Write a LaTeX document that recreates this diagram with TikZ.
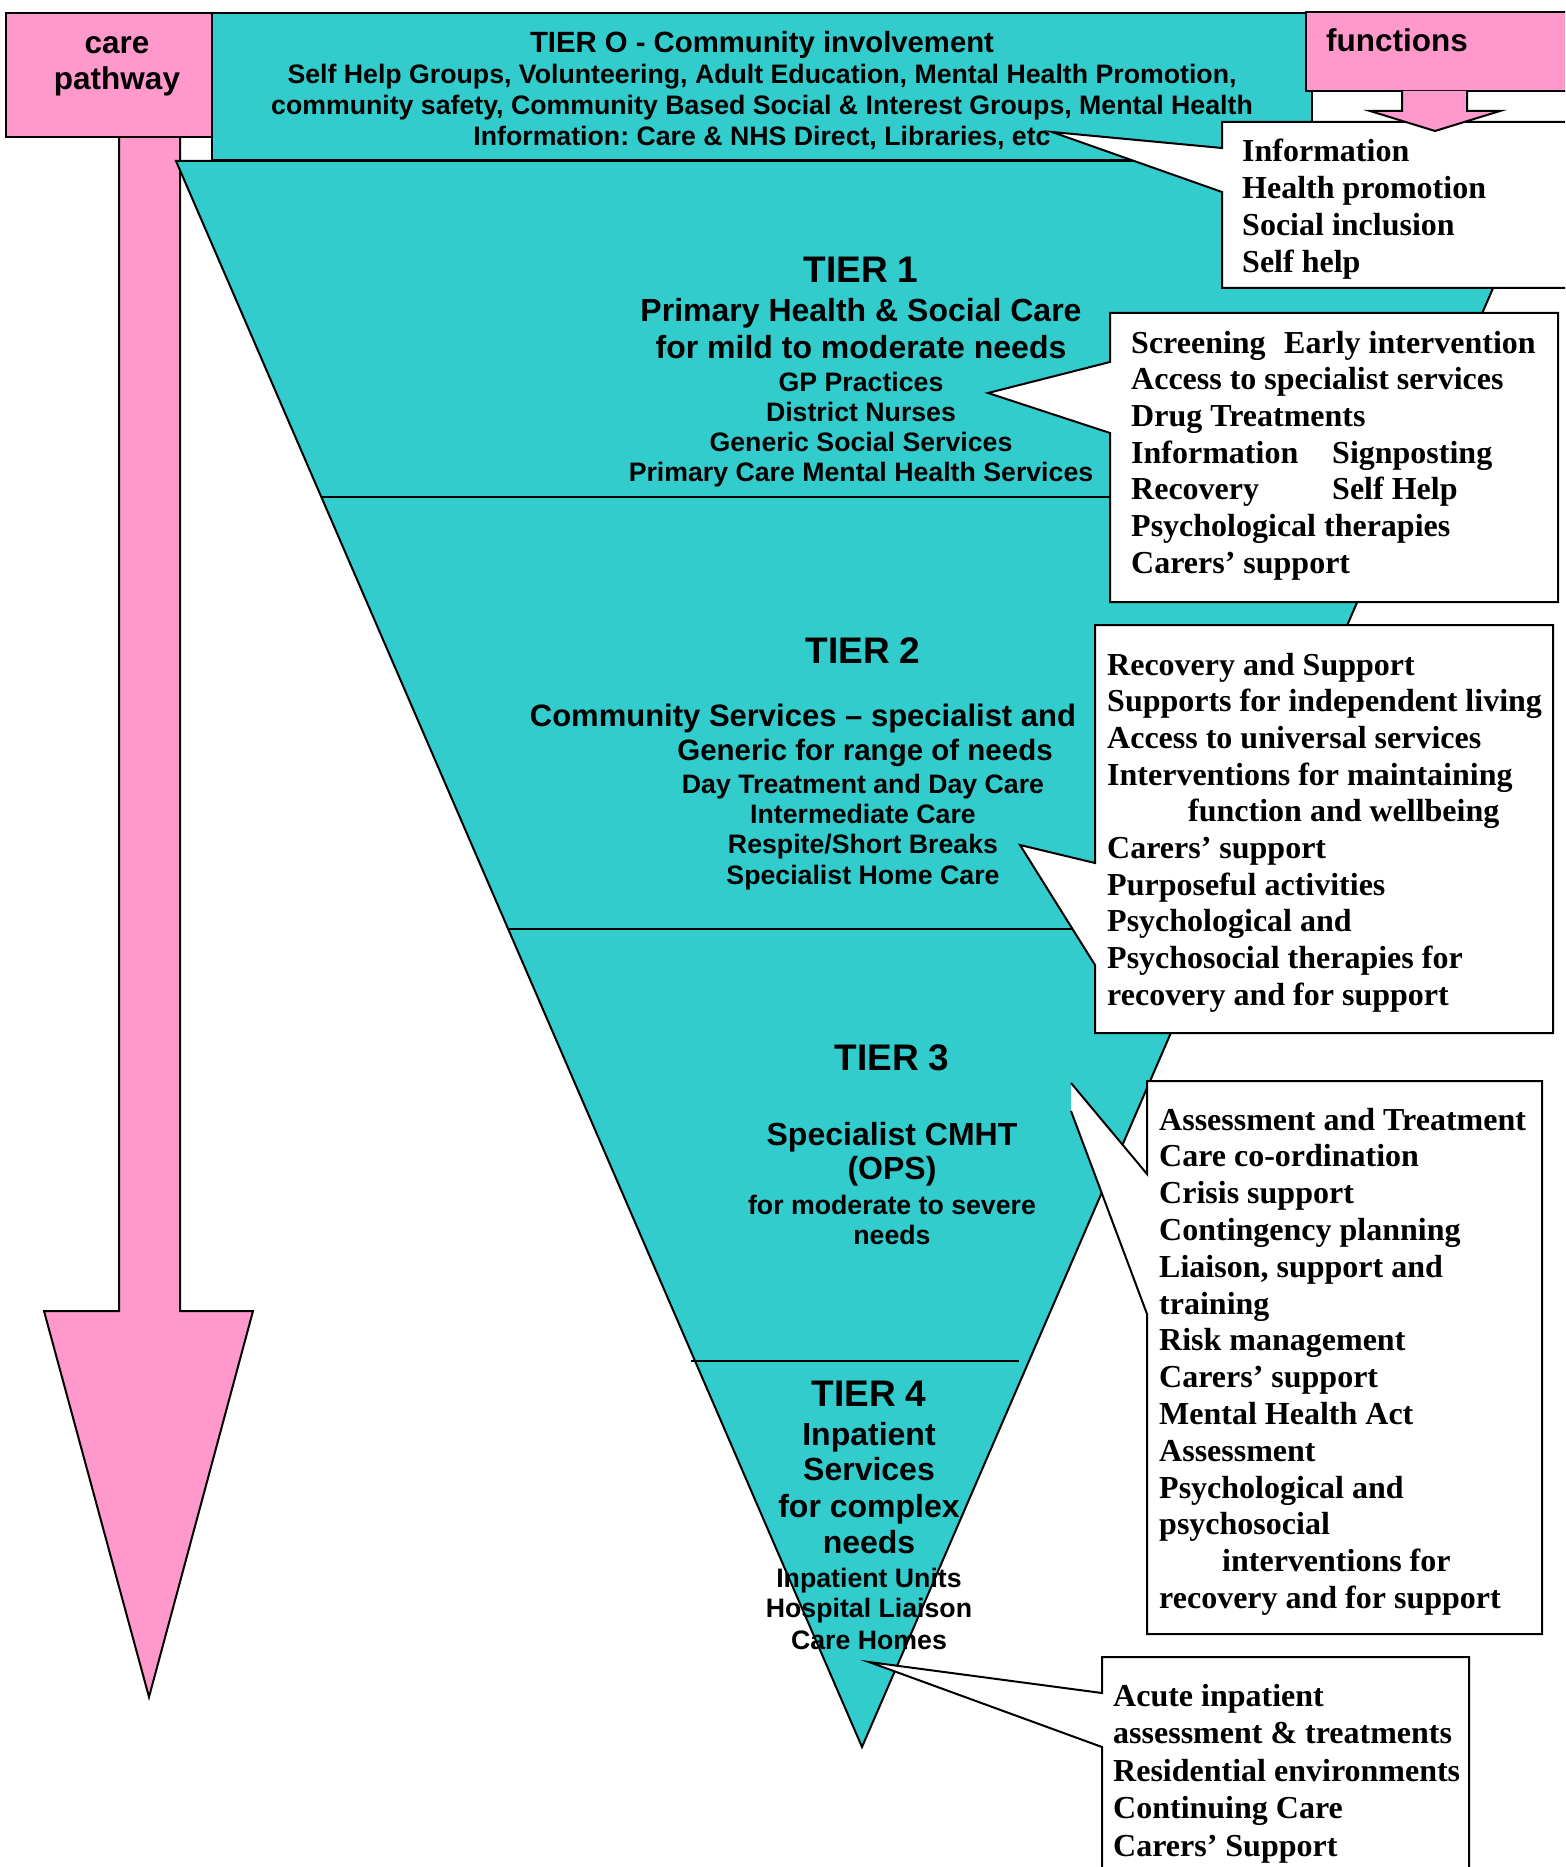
\documentclass[tikz,border=0pt]{standalone}
\usepackage{fontspec}
\setmainfont{Liberation Serif}
\newfontfamily\arialfont{Liberation Sans}
\definecolor{tealfill}{HTML}{33CCCC}
\definecolor{pinkfill}{HTML}{FF99CC}
\frenchspacing
\begin{document}
\begin{tikzpicture}[x=1pt,y=-1pt,
  outline/.style={draw=black,line width=2pt,line join=miter},
  tierhead/.style={font=\arialfont\bfseries\fontsize{37}{42}\selectfont,anchor=base,inner sep=0pt},
  tiermain/.style={font=\arialfont\bfseries\fontsize{32}{36}\selectfont,anchor=base,inner sep=0pt},
  tiersub/.style={font=\arialfont\bfseries\fontsize{26.7}{30}\selectfont,anchor=base,inner sep=0pt},
  toptitle/.style={font=\arialfont\bfseries\fontsize{29.3}{33}\selectfont,anchor=base,inner sep=0pt},
  labelbig/.style={font=\arialfont\bfseries\fontsize{31.5}{35}\selectfont,anchor=base,inner sep=0pt},
  serifline/.style={font=\bfseries\fontsize{32}{37}\selectfont,anchor=base west,inner sep=0pt},
]
\useasboundingbox (0,0) rectangle (1565,1867);
\clip (0,0) rectangle (1565,1867);

% care pathway arrow
\draw[outline,fill=pinkfill] (119,130) -- (119,1311) -- (44,1311) -- (149,1697)
  -- (253,1311) -- (180,1311) -- (180,130);
\draw[outline,fill=pinkfill] (6,13) rectangle (212,137);
\node[labelbig] (cp1) at (117,54) {care};
\node[labelbig] (cp2) at (117,90) {pathway};

% tier 0 band
\draw[outline,fill=tealfill] (212,13) rectangle (1312,160);
\node[toptitle] (t0a) at (762,53) {TIER O - Community involvement};
\node[tiersub] (t0b) at (762,84) {Self Help Groups, Volunteering, Adult Education, Mental Health Promotion,};
\node[tiersub] (t0c) at (762,115) {community safety, Community Based Social \& Interest Groups, Mental Health};
\node[tiersub] (t0d) at (762,146) {Information: Care \& NHS Direct, Libraries, etc};

% inverted triangle with tiers
\fill[tealfill] (176,161) -- (1548,161) -- (862,1747) -- cycle;
\draw[outline] (321,497) -- (1408,497);
\draw[outline] (508,929) -- (1219,929);
\draw[outline] (691,1361) -- (1019,1361);

% tier 1
\node[tierhead] (t1a) at (861,283) {TIER 1};
\node[tiermain] (t1b) at (861,321) {Primary Health \& Social Care};
\node[tiermain] (t1c) at (861,358) {for mild to moderate needs};
\node[tiersub] (t1d) at (861,391) {GP Practices};
\node[tiersub] (t1e) at (861,421) {District Nurses};
\node[tiersub] (t1f) at (861,451) {Generic Social Services};
\node[tiersub] (t1g) at (861,481) {Primary Care Mental Health Services};

% tier 2
\node[tierhead] (t2a) at (863,663) {TIER 2};
\node[tiermain,font=\arialfont\bfseries\fontsize{31}{35}\selectfont] (t2b) at (803,726) {Community Services – specialist and};
\node[tiermain,font=\arialfont\bfseries\fontsize{29.5}{34}\selectfont] (t2c) at (865,760) {Generic for range of needs};
\node[tiersub] (t2d) at (863,793) {Day Treatment and Day Care};
\node[tiersub] (t2e) at (863,823) {Intermediate Care};
\node[tiersub] (t2f) at (863,853) {Respite/Short Breaks};
\node[tiersub] (t2g) at (863,884) {Specialist Home Care};

% tier 3
\node[tierhead] (t3a) at (892,1070) {TIER 3};
\node[tiermain] (t3b) at (892,1145) {Specialist CMHT};
\node[tiermain] (t3c) at (892,1179) {(OPS)};
\node[tiersub] (t3d) at (892,1214) {for moderate to severe};
\node[tiersub] (t3e) at (892,1244) {needs};

% tier 4
\node[tierhead] (t4a) at (869,1406) {TIER 4};
\node[tiermain] (t4b) at (869,1445) {Inpatient};
\node[tiermain] (t4c) at (869,1480) {Services};
\node[tiermain] (t4d) at (869,1517) {for complex};
\node[tiermain] (t4e) at (869,1553) {needs};
\node[tiersub] (t4f) at (869,1587) {Inpatient Units};
\node[tiersub] (t4g) at (869,1617) {Hospital Liaison};
\node[tiersub] (t4h) at (869,1649) {Care Homes};

% triangle outline over the text
\draw[outline] (176,161) -- (1548,161) -- (862,1747) -- cycle;

% callout: tier 0 functions
\draw[outline,fill=white] (1222,122) -- (1575,122) -- (1575,288) -- (1222,288)
  -- (1222,192) -- (1052,132) -- (1222,148) -- cycle;
\foreach \txt [count=\i] in {Information,Health promotion,Social inclusion,Self help}
  \node[serifline] (f0l\i) at (1242,{162+36.7*(\i-1)}) {\txt};

% callout: tier 1
\draw[outline,fill=white] (1110,313) -- (1558,313) -- (1558,602) -- (1110,602)
  -- (1110,433) -- (988,393) -- (1110,362) -- cycle;
\node[serifline] (f1a) at (1131,353) {Screening};
\node[serifline] (f1b) at (1284,353) {Early intervention};
\node[serifline] (f1c) at (1131,389.7) {Access to specialist services};
\node[serifline] (f1d) at (1131,426.4) {Drug Treatments};
\node[serifline] (f1e) at (1131,463.1) {Information};
\node[serifline] (f1f) at (1332,463.1) {Signposting};
\node[serifline] (f1g) at (1131,499.8) {Recovery};
\node[serifline] (f1h) at (1332,499.8) {Self Help};
\node[serifline] (f1i) at (1131,536.5) {Psychological therapies};
\node[serifline] (f1j) at (1131,573.2) {Carers’ support};

% callout: tier 2
\draw[outline,fill=white] (1095,625) -- (1553,625) -- (1553,1033) -- (1095,1033)
  -- (1095,965) -- (1020,845) -- (1095,863) -- cycle;
\foreach \txt [count=\i] in {Recovery and Support,Supports for independent living,
    Access to universal services,Interventions for maintaining,
    \hspace*{81pt}function and wellbeing,Carers’ support,Purposeful activities,
    Psychological and,Psychosocial therapies for,recovery and for support}
  \node[serifline] (f2l\i) at (1107,{675+36.7*(\i-1)}) {\txt};

% callout: tier 3
\fill[white] (1147,1081) -- (1542,1081) -- (1542,1634) -- (1147,1634)
  -- (1147,1314) -- (1071,1111) -- (1071,1083) -- (1147,1174) -- cycle;
\draw[outline] (1071,1111) -- (1147,1314) -- (1147,1634) -- (1542,1634)
  -- (1542,1081) -- (1147,1081) -- (1147,1174) -- (1071,1083);
\foreach \txt [count=\i] in {Assessment and Treatment,Care co-ordination,Crisis support,
    Contingency planning,{Liaison, support and},training,Risk management,
    Carers’ support,Mental Health Act,Assessment,Psychological and,psychosocial,
    \hspace*{63pt}interventions for,recovery and for support}
  \node[serifline] (f3l\i) at (1159,{1130+36.8*(\i-1)}) {\txt};

% callout: tier 4
\draw[outline,fill=white] (1102,1657) -- (1469,1657) -- (1469,1890) -- (1102,1890)
  -- (1102,1747) -- (869,1662) -- (1102,1693) -- cycle;
\foreach \txt [count=\i] in {Acute inpatient,assessment \& treatments,
    Residential environments,Continuing Care,Carers’ Support}
  \node[serifline] (f4l\i) at (1113,{1706+37.5*(\i-1)}) {\txt};

% functions label with its arrow
\draw[outline,fill=pinkfill] (1306,12) rectangle (1575,91);
\node[labelbig,anchor=base west] (fn) at (1326,52) {functions};
\draw[outline,fill=pinkfill] (1402,91) -- (1402,111) -- (1370,111) -- (1435,131)
  -- (1500,111) -- (1467,111) -- (1467,91);
\end{tikzpicture}
\end{document}
